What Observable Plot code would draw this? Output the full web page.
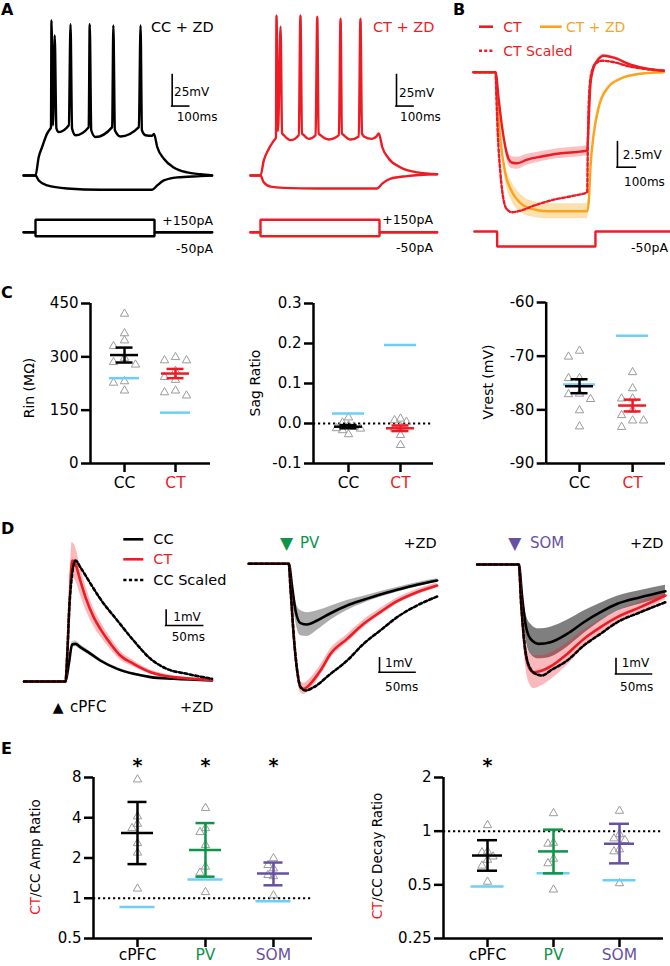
<!DOCTYPE html>
<html>
<head>
<meta charset="utf-8">
<script src="https://cdn.jsdelivr.net/npm/d3@7"></script>
<script src="https://cdn.jsdelivr.net/npm/@observablehq/plot@0.6"></script>
<style>
  html,body{margin:0;padding:0;background:#fff;}
  #fig{position:relative;width:670px;height:966px;overflow:hidden;background:#fff;font-family:"DejaVu Sans","Liberation Sans",Arial,sans-serif;color:#000;}
  .t{position:absolute;white-space:nowrap;line-height:1;}
</style>
</head>
<body>
<div id="fig"></div>
<script>
// ====================== DATA ======================
// Panel A: membrane potential [time ms, Vm mV]
const aCCDepol = [[-70,-70],[0,-70],[19,-55],[39,-47],[69,-36],[88,-32],[91,-31.5],[94,55],[103,-29.5],[113,43],[123,-32],[137,-35],[196,-29.5],[206,52],[215,-32],[235,-37.5],[313,-31],[319,52],[328,-33.5],[353,-39],[451,-31],[458,51],[467,-33.5],[500,-38.5],[608,-31],[618,51],[626,-33.5],[647,-37.5],[686,-38],[697,-36.5],[716,-47],[755,-56.5],[813,-63.5],[892,-67.5],[971,-69],[1039,-70]];
const aCCHyper = [[-70,-70],[0,-70],[19,-74],[69,-78],[186,-80.5],[382,-81.5],[686,-81.5],[716,-78],[755,-74],[834,-71.5],[971,-70.5],[1039,-70]];
const aCTDepol = [[-59,-70],[0,-70],[19,-58],[49,-48.5],[78,-42],[91,-39.5],[94,59],[103,-34],[118,50],[127,-36],[137,-37.5],[177,-41.5],[225,-37.5],[235,59],[244,-36],[255,-37.5],[284,-40.5],[324,-37.5],[334,58],[342,-36],[353,-37.5],[402,-41],[461,-37.5],[471,56.5],[479,-36],[490,-37.5],[529,-41],[578,-38.5],[588,56.5],[597,-36],[608,-38.5],[657,-40.5],[682,-38.5],[696,-36],[716,-47],[755,-56.5],[824,-63.5],[922,-67.5],[1039,-69]];
const aCTHyper = [[-59,-70],[0,-70],[19,-75.5],[59,-79],[137,-80],[334,-80.5],[686,-80.5],[716,-76.5],[765,-72.5],[863,-70.5],[1039,-69]];
// current command steps (pA)
const aStepTimeCC = [-70, 0, 0, 700, 700, 1039];
const aStepTimeCT = [-59, 0, 0, 700, 700, 1039];
const aStepPlus = [0, 0, 150, 150, 0, 0];
const aStepMinus = [0, 0, -50, -50, 0, 0];

// Panel B: [time ms, dVm mV, SEM mV]
const bCT = [[-120,0,0.05],[0,0,0.05],[18,-2.8,0.3],[36,-5.5,0.45],[54,-7.5,0.55],[72,-8.7,0.6],[91,-9.05,0.6],[118,-9.1,0.6],[173,-8.75,0.55],[245,-8.45,0.5],[336,-8.15,0.5],[427,-8.0,0.5],[500,-7.85,0.5],[509,-4.5,0.35],[518,-1.15,0.2],[536,0.5,0.15],[555,1.15,0.15],[591,1.65,0.15],[645,1.45,0.12],[736,0.75,0.1],[827,0.35,0.08],[918,0.15,0.05]];
const bCTZD = [[-120,0,0.05],[0,0,0.05],[9,-2.8,0.2],[27,-6.8,0.5],[54,-10.15,0.8],[91,-12.0,0.95],[136,-13.1,0.9],[191,-13.65,0.8],[282,-13.9,0.75],[500,-13.9,0.75],[509,-12.85,0.7],[518,-9.5,0.6],[536,-6.15,0.5],[563,-3.5,0.35],[609,-1.65,0.2],[682,-0.65,0.1],[791,-0.15,0.05],[918,0,0.05]];
const bCTScaled = [[-120,0],[0,0],[5.5,-2.85],[12.5,-6.15],[27,-10.15],[45,-12.85],[64,-13.75],[91,-14.0],[136,-13.85],[209,-13.35],[318,-12.75],[427,-12.35],[500,-12.0],[503,-7.85],[509,-2.85],[522,-0.15],[545,0.85],[582,1.15],[645,1.0],[736,0.55],[827,0.3],[918,0.15]];
const bStepTime = [-115, 9, 9, 545, 545, 955];
const bStepAmp = [0, 0, -50, -50, 0, 0];

// Panel C
const cCats = ["CC", "CT"];
const rinCC = [421, 366, 346, 330, 297, 285, 278, 231, 227, 205];
const rinCT = [299, 290, 290, 260, 243, 235, 205, 200, 191];
const rinMean = [305, 253], rinSem = [21, 13], rinZD = [240, 143];
const sagCC = [0.015, 0.002, -0.005, -0.008, -0.012, -0.013, -0.017, -0.027];
const sagCT = [0.012, 0.008, 0.004, -0.008, -0.013, -0.029, -0.054];
const sagMean = [-0.008, -0.012], sagSem = [0.004, 0.007], sagZD = [0.025, 0.196];
const vrestCC = [-69.0, -70.1, -74.1, -74.1, -77.0, -77.1, -78.0, -80.1, -83.1];
const vrestCT = [-73.0, -76.0, -77.9, -77.9, -80.0, -81.0, -82.0, -82.0, -83.2];
const vrestMean = [-75.6, -79.2], vrestSem = [1.3, 1.1], vrestZD = [-75.3, -66.2];

// Panel D: [time ms, mV, SEM mV]
const dCPFC_CC = [[-56,0,0.02],[0,0,0.02],[4.5,1.18,0.1],[9,2.47,0.18],[13.5,2.51,0.2],[20,2.29,0.18],[34,1.84,0.15],[47,1.4,0.12],[70,0.84,0.1],[92,0.51,0.08],[115,0.29,0.06],[146,0.18,0.05],[198,0.07,0.03]];
const dCPFC_CT = [[-56,0,0.02],[0,0,0.02],[2.2,1.62,0.2],[5.4,5.18,0.8],[9,8.07,1.2],[12.2,7.96,1.15],[20,6.73,0.95],[27,5.62,0.8],[38,4.29,0.6],[47,3.51,0.5],[61,2.51,0.4],[74,1.73,0.3],[92,1.18,0.22],[115,0.62,0.15],[146,0.29,0.1],[198,0.11,0.05]];
const dCPFC_CCScaled = [[-56,0],[0,0],[2.2,1.62],[5.4,5.18],[13.5,8.07],[20,7.62],[34,6.51],[47,5.51],[70,4.07],[92,2.73],[115,1.51],[137,0.84],[164,0.51],[198,0.18]];
const dPV_CC = [[-55.6,0,0.02],[0,0,0.02],[4.7,-1.67,0.3],[9.3,-3.34,0.7],[16.3,-4.24,0.9],[25.5,-4.34,0.85],[39.4,-4.05,0.7],[58,-3.53,0.5],[81,-2.98,0.35],[104,-2.57,0.25],[127,-2.19,0.2],[150.5,-1.86,0.17],[178,-1.5,0.15],[206,-1.19,0.12]];
const dPV_CT = [[-55.6,0,0.02],[0,0,0.02],[2.3,-1.67,0.1],[7,-5.24,0.25],[11.6,-7.62,0.35],[16.3,-8.81,0.4],[20.8,-8.93,0.4],[30,-8.57,0.4],[44,-7.62,0.38],[58,-6.43,0.35],[81,-5.36,0.3],[104,-4.29,0.27],[127,-3.45,0.25],[150.5,-2.67,0.22],[178,-2.03,0.2],[206,-1.55,0.18]];
const dPV_CCScaled = [[-55.6,0],[0,0],[2.3,-1.67],[7,-5.24],[11.6,-7.62],[16.3,-8.81],[23.2,-9.05],[34.7,-8.81],[58,-7.86],[81,-6.91],[104,-5.71],[127,-4.76],[150.5,-3.81],[178,-2.98],[206,-2.34]];
const dSOM_CC = [[-57.8,0,0.02],[0,0,0.02],[4.7,-2.18,0.4],[9.3,-3.96,0.8],[16.3,-4.96,1.0],[27.8,-5.29,1.0],[44,-5.18,1.0],[67.2,-4.62,0.9],[90.3,-3.85,0.75],[113.5,-3.18,0.6],[136.7,-2.62,0.5],[169,-2.18,0.45],[203.7,-1.78,0.4]];
const dSOM_CT = [[-57.8,0,0.02],[0,0,0.02],[3.3,-2.62,0.4],[7.9,-5.29,0.8],[13.9,-6.84,1.0],[20.8,-7.18,1.1],[32.5,-7.07,1.0],[44,-6.8,0.9],[67.2,-5.96,0.75],[90.3,-4.96,0.6],[113.5,-4.18,0.5],[136.7,-3.51,0.4],[169,-2.84,0.35],[203.7,-2.07,0.3]];
const dSOM_CCScaled = [[-57.8,0],[0,0],[3.3,-2.62],[7.9,-5.29],[13.9,-6.73],[23.2,-7.29],[32.5,-7.4],[44,-7.07],[67.2,-6.4],[90.3,-5.4],[113.5,-4.62],[136.7,-3.85],[169,-3.18],[203.7,-2.51]];

// Panel E
const eCats = ["cPFC", "PV", "SOM"];
const ampCPFC = [7.73, 4.09, 3.6, 3.34, 2.58, 2.19, 1.18];
const ampPV = [4.73, 3.34, 3.12, 2.5, 1.72, 1.55, 1.11];
const ampSOM = [1.99, 1.77, 1.67, 1.49, 1.46, 1.05];
const ampMean = [3.07, 2.3, 1.53], ampLo = [1.8, 1.45, 1.25], ampHi = [5.25, 3.65, 1.85], ampZD = [0.86, 1.38, 0.95];
const ampSig = ["cPFC", "PV", "SOM"];
const decayCPFC = [1.08, 0.77, 0.76, 0.72, 0.69, 0.64, 0.52];
const decayPV = [1.26, 0.86, 0.85, 0.70, 0.66, 0.47];
const decaySOM = [1.30, 0.96, 0.91, 0.89, 0.79, 0.77, 0.51];
const decayMean = [0.73, 0.77, 0.85], decayLo = [0.60, 0.58, 0.66], decayHi = [0.89, 1.02, 1.10], decayZD = [0.49, 0.58, 0.53];
const decaySig = ["cPFC"];

// ====================== STYLE ======================
const RED = "#ed1c24", ORANGE = "#f8a51d", GREEN = "#0d9448", PURPLE = "#6750a2", CYAN = "#6dcff6", TRI = "#9b9b9b";
const FONT = '"DejaVu Sans","Liberation Sans",Arial,sans-serif';
const fig = document.getElementById("fig");

function addPlot(opts) {
  const svg = Plot.plot({
    width: 670, height: 966, margin: 0,
    style: {position: "absolute", left: "0px", top: "0px", background: "transparent", overflow: "visible", fontFamily: FONT, fontSize: "15px", color: "#000"},
    ...opts
  });
  fig.appendChild(svg);
}
const tx = d => d[0], ty = d => d[1];
const lineOpt = (stroke, extra = {}) => ({x: tx, y: ty, stroke, strokeWidth: 2.4, curve: "monotone-x", ...extra});
const bandOpt = (fill, op) => ({x: tx, y1: d => d[1] - d[2], y2: d => d[1] + d[2], fill, fillOpacity: op, curve: "monotone-x"});
function scaleBar(bar) {
  return [
    Plot.ruleX([bar], {x: "t", y1: "v", y2: d => d.v + d.dv, strokeWidth: 1.6, strokeLinecap: "square"}),
    Plot.ruleY([bar], {y: "v", x1: "t", x2: d => d.t + d.dt, strokeWidth: 1.6, strokeLinecap: "square"})
  ];
}
function traceLayer(xs, ys, marks) {
  addPlot({x: {...xs, axis: null}, y: {...ys, axis: null}, marks});
}
const stepLine = (times, amps, stroke) => Plot.line(times.map((t, i) => [t, amps[i]]), {x: tx, y: ty, stroke, strokeWidth: 2.4, strokeLinejoin: "miter", curve: "linear"});

// ---------- Panel A ----------
const aXL = {domain: [0, 1000], range: [35, 205]};
const aXR = {domain: [0, 1000], range: [260, 430]};
const aY = {domain: [-70, 0], range: [175, 88.2]};
const aI = {domain: [-50, 150], range: [235.8, 219.3]};
traceLayer(aXL, aY, [
  Plot.line(aCCHyper, lineOpt("#000")),
  Plot.line(aCCDepol, lineOpt("#000")),
  ...scaleBar({t: 804, v: -14, dt: 100, dv: 25})
]);
traceLayer(aXL, aI, [stepLine(aStepTimeCC, aStepPlus, "#000"), stepLine(aStepTimeCC, aStepMinus, "#000")]);
traceLayer(aXR, aY, [
  Plot.line(aCTHyper, lineOpt(RED)),
  Plot.line(aCTDepol, lineOpt(RED)),
  ...scaleBar({t: 800, v: -14, dt: 100, dv: 25})
]);
traceLayer(aXR, aI, [stepLine(aStepTimeCT, aStepPlus, RED), stepLine(aStepTimeCT, aStepMinus, RED)]);

// ---------- Panel B ----------
const bX = {domain: [0, 500], range: [495, 586.7]};
traceLayer(bX, {domain: [-10, 0], range: [171.7, 71.7]}, [
  Plot.areaY(bCTZD, bandOpt(ORANGE, 0.35)),
  Plot.areaY(bCT, bandOpt(RED, 0.28)),
  Plot.line(bCTZD, lineOpt(ORANGE)),
  Plot.line(bCT, lineOpt(RED)),
  Plot.line(bCTScaled, lineOpt(RED, {strokeDasharray: "3,2.2"})),
  ...scaleBar({t: 665, v: -9.5, dt: 100, dv: 2.5})
]);
traceLayer(bX, {domain: [-50, 0], range: [246, 231]}, [stepLine(bStepTime, bStepAmp, RED)]);

// ---------- Panel D ----------
function dPanel(xs, ys, cc, ct, ccs, greyOp, bar) {
  traceLayer(xs, ys, [
    Plot.areaY(cc, bandOpt("#000", greyOp)),
    Plot.areaY(ct, bandOpt(RED, 0.3)),
    Plot.line(cc, lineOpt("#000", {strokeWidth: 2.6})),
    Plot.line(ct, lineOpt(RED, {strokeWidth: 2.6})),
    Plot.line(ccs, lineOpt("#000", {strokeWidth: 2.6, strokeDasharray: "3.2,2.4"})),
    ...scaleBar(bar)
  ]);
}
dPanel({domain: [0, 100], range: [65, 139]}, {domain: [0, 1], range: [681, 666]}, dCPFC_CC, dCPFC_CT, dCPFC_CCScaled, 0.2, {t: 136, v: 3.73, dt: 50, dv: 1});
dPanel({domain: [0, 100], range: [288.3, 360.3]}, {domain: [-1, 0], range: [577.3, 563.3]}, dPV_CC, dPV_CT, dPV_CCScaled, 0.32, {t: 126, v: -7.75, dt: 50, dv: 1});
dPanel({domain: [0, 100], range: [518.3, 590.3]}, {domain: [-1, 0], range: [579, 564]}, dSOM_CC, dSOM_CT, dSOM_CCScaled, 0.5, {t: 135, v: -7.3, dt: 50, dv: 1});

// ---------- Scatter panels (C, E) ----------
function dodge(py, slot, h = 7) {
  const placed = [];
  return py.map(y => {
    for (let k = 0; k < 40; k++) {
      const s = k === 0 ? 0 : (k % 2 ? -Math.ceil(k / 2) : Math.ceil(k / 2));
      const x = s * slot;
      if (!placed.some(p => Math.abs(p.y - y) < h && Math.abs(p.x - x) < slot * 0.99)) { placed.push({x, y}); return x; }
    }
    return 0;
  });
}
function scatterPanel(g) {
  const stepPx = (g.right - g.left) / (g.x1 - g.x0);
  const yPx = (g.log ? d3.scaleLog().base(2) : d3.scaleLinear()).domain(g.yDomain).range([g.bottom, g.top]);
  const pts = [];
  g.groups.forEach((vals, i) => {
    const offs = dodge(vals.map(yPx), g.slot);
    vals.forEach((v, j) => pts.push({x: i + offs[j] / stepPx, y: v}));
  });
  const eb = g.means.map((m, i) => ({i, m, lo: g.lo[i], hi: g.hi[i], c: g.colors[i]}));
  const zd = g.zd.map((v, i) => ({i, v}));
  const mw = g.meanHalf / stepPx, cw = g.capHalf / stepPx, zw = g.zdHalf / stepPx;
  const SW = 2.5;
  addPlot({
    marginLeft: g.left, marginRight: 670 - g.right, marginTop: g.top, marginBottom: 966 - g.bottom,
    x: {domain: [g.x0, g.x1]},
    y: g.log ? {type: "log", base: 2, domain: g.yDomain} : {domain: g.yDomain},
    color: {type: "identity"},
    marks: [
      g.ref != null ? Plot.ruleY([g.ref], {strokeDasharray: "2.2,2.8", strokeWidth: 2}) : null,
      Plot.dot(pts, {x: "x", y: "y", symbol: "triangle", r: 3.1, stroke: TRI, strokeWidth: 1, fill: "none"}),
      Plot.ruleY(zd, {y: "v", x1: d => d.i - zw, x2: d => d.i + zw, stroke: CYAN, strokeWidth: SW}),
      Plot.ruleX(eb, {x: "i", y1: "lo", y2: "hi", stroke: "c", strokeWidth: SW}),
      Plot.ruleY(eb, {y: "hi", x1: d => d.i - cw, x2: d => d.i + cw, stroke: "c", strokeWidth: SW}),
      Plot.ruleY(eb, {y: "lo", x1: d => d.i - cw, x2: d => d.i + cw, stroke: "c", strokeWidth: SW}),
      Plot.ruleY(eb, {y: "m", x1: d => d.i - mw, x2: d => d.i + mw, stroke: "c", strokeWidth: SW}),
      Plot.axisY({ticks: g.ticks, tickFormat: g.fmt, tickSize: 9, tickPadding: 3, strokeWidth: SW, fontSize: 15, label: null}),
      Plot.axisX({ticks: g.cats.map((_, i) => i), tickFormat: () => "", tickSize: 9, strokeWidth: SW, label: null}),
      Plot.ruleX([g.x0], {strokeWidth: SW}),
      Plot.ruleY([g.yDomain[0]], {strokeWidth: SW}),
      Plot.text(g.cats, {x: (d, i) => i, text: d => d, frameAnchor: "bottom", dy: g.catDy, fill: (d, i) => g.colors[i], fontSize: 15.5}),
      g.sig ? Plot.text(g.sig, {x: d => g.cats.indexOf(d), text: () => "*", frameAnchor: "top", dy: -19.5, fontSize: 19, fontWeight: "bold"}) : null
    ]
  });
}
const cColors = ["#000", RED];
const eColors = ["#000", GREEN, PURPLE];
const symFmt = d => String(d);
scatterPanel({left: 90, right: 210, top: 303, bottom: 463, x0: -0.667, x1: 1.686, yDomain: [0, 450], ticks: [0, 150, 300, 450], fmt: symFmt,
  cats: cCats, colors: cColors, groups: [rinCC, rinCT], means: rinMean, lo: rinMean.map((m, i) => m - rinSem[i]), hi: rinMean.map((m, i) => m + rinSem[i]), zd: rinZD,
  slot: 11, meanHalf: 14, capHalf: 8.5, zdHalf: 15, catDy: 24});
scatterPanel({left: 313, right: 433, top: 303, bottom: 463, x0: -0.673, x1: 1.635, yDomain: [-0.1, 0.3], ticks: [-0.1, 0, 0.1, 0.2, 0.3], fmt: d => d.toFixed(1),
  cats: cCats, colors: cColors, groups: [sagCC, sagCT], means: sagMean, lo: sagMean.map((m, i) => m - sagSem[i]), hi: sagMean.map((m, i) => m + sagSem[i]), zd: sagZD,
  slot: 6, meanHalf: 14, capHalf: 8.5, zdHalf: 16, catDy: 24, ref: 0});
scatterPanel({left: 545.7, right: 665, top: 302, bottom: 463, x0: -0.628, x1: 1.62, yDomain: [-90, -60], ticks: [-90, -80, -70, -60], fmt: symFmt,
  cats: cCats, colors: cColors, groups: [vrestCC, vrestCT], means: vrestMean, lo: vrestMean.map((m, i) => m - vrestSem[i]), hi: vrestMean.map((m, i) => m + vrestSem[i]), zd: vrestZD,
  slot: 11, meanHalf: 14, capHalf: 8.5, zdHalf: 16, catDy: 24});
scatterPanel({left: 93, right: 312, top: 777, bottom: 938, x0: -0.647, x1: 2.574, log: true, yDomain: [0.5, 8], ticks: [0.5, 1, 2, 4, 8], fmt: symFmt,
  cats: eCats, colors: eColors, groups: [ampCPFC, ampPV, ampSOM], means: ampMean, lo: ampLo, hi: ampHi, zd: ampZD,
  slot: 5.5, meanHalf: 16, capHalf: 9.5, zdHalf: 17.5, catDy: 21, ref: 1, sig: ampSig});
scatterPanel({left: 443, right: 663, top: 777, bottom: 938, x0: -0.667, x1: 2.667, log: true, yDomain: [0.25, 2], ticks: [0.25, 0.5, 1, 2], fmt: symFmt,
  cats: eCats, colors: eColors, groups: [decayCPFC, decayPV, decaySOM], means: decayMean, lo: decayLo, hi: decayHi, zd: decayZD,
  slot: 5.5, meanHalf: 15, capHalf: 10, zdHalf: 16.5, catDy: 21, ref: 1, sig: decaySig});

// ---------- Text ----------
function t(str, x, cy, {size = 14, color = "#000", weight = "normal", anchor = "start"} = {}) {
  const d = document.createElement("div");
  d.className = "t";
  d.textContent = str;
  const tx = anchor === "end" ? "-100%" : anchor === "middle" ? "-50%" : "0";
  d.style.cssText = `left:${x}px;top:${cy}px;font-size:${size}px;color:${color};font-weight:${weight};transform:translate(${tx},-50%);`;
  fig.appendChild(d);
}
function vtitle(parts, cx, cy, size) {
  const d = document.createElement("div");
  d.className = "t";
  d.style.cssText = `left:${cx}px;top:${cy}px;font-size:${size}px;transform:translate(-50%,-50%) rotate(-90deg);`;
  parts.forEach(([s, c]) => { const sp = document.createElement("span"); sp.textContent = s; sp.style.color = c; d.appendChild(sp); });
  fig.appendChild(d);
}
// panel letters
[["A", 1, 9.5], ["B", 453, 9.5], ["C", 1, 292.5], ["D", 1, 529], ["E", 1, 749]].forEach(([s, x, y]) => t(s, x, y, {size: 16, weight: "bold"}));
// A
t("CC + ZD", 151, 27, {size: 14.5});
t("CT + ZD", 373, 27, {size: 14.5, color: RED});
t("25mV", 174, 91.7, {size: 12});
t("100ms", 176.7, 116.7, {size: 12});
t("25mV", 399, 92.5, {size: 12});
t("100ms", 400, 117, {size: 12});
t("+150pA", 213, 220.5, {size: 12.5, anchor: "end"});
t("-50pA", 213, 248.5, {size: 12.5, anchor: "end"});
t("+150pA", 433, 220, {size: 12.5, anchor: "end"});
t("-50pA", 433, 248, {size: 12.5, anchor: "end"});
// B
t("CT", 503.3, 26.7, {size: 14, color: RED});
t("CT + ZD", 566, 26.7, {size: 14, color: ORANGE});
t("CT Scaled", 503.3, 50.7, {size: 14, color: RED});
t("2.5mV", 622.7, 155, {size: 12});
t("100ms", 624, 181.7, {size: 12});
t("-50pA", 668, 248, {size: 12.5, anchor: "end"});
// C titles
vtitle([["Rin (MΩ)", "#000"]], 29.3, 387.5, 14);
vtitle([["Sag Ratio", "#000"]], 255, 383.3, 14);
vtitle([["Vrest (mV)", "#000"]], 488.3, 382.3, 14);
// D
t("CC", 153.3, 539.3, {size: 14.5});
t("CT", 153.3, 559.3, {size: 14.5, color: RED});
t("CC Scaled", 153.3, 580, {size: 14.5});
t("1mV", 173.3, 616.7, {size: 12});
t("50ms", 171.7, 636.7, {size: 12});
t("▲", 52.7, 707, {size: 14});
t("cPFC", 70, 707, {size: 15});
t("+ZD", 213.3, 707, {size: 14.5, anchor: "end"});
t("▼", 280, 543, {size: 17, color: GREEN});
t("PV", 300, 543, {size: 15, color: GREEN});
t("+ZD", 436.7, 543, {size: 14.5, anchor: "end"});
t("▼", 508.3, 543, {size: 17, color: PURPLE});
t("SOM", 530, 543, {size: 15, color: PURPLE});
t("+ZD", 663.3, 543, {size: 14.5, anchor: "end"});
t("1mV", 385, 663.3, {size: 12});
t("50ms", 385, 686.7, {size: 12});
t("1mV", 621.7, 663.3, {size: 12});
t("50ms", 620, 686.7, {size: 12});
// E titles
vtitle([["CT", RED], ["/CC Amp Ratio", "#000"]], 36, 856.7, 13.5);
vtitle([["CT", RED], ["/CC Decay Ratio", "#000"]], 378.3, 856, 13.5);

// legend swatches
const ns = "http://www.w3.org/2000/svg";
const sw = document.createElementNS(ns, "svg");
sw.setAttribute("width", "670"); sw.setAttribute("height", "966");
sw.style.cssText = "position:absolute;left:0;top:0;overflow:visible";
function swatch(x1, x2, y, color, dash) {
  const l = document.createElementNS(ns, "line");
  l.setAttribute("x1", x1); l.setAttribute("x2", x2); l.setAttribute("y1", y); l.setAttribute("y2", y);
  l.setAttribute("stroke", color); l.setAttribute("stroke-width", "2.6");
  if (dash) l.setAttribute("stroke-dasharray", dash);
  sw.appendChild(l);
}
swatch(479, 493, 26.7, RED);
swatch(540, 561.7, 26.7, ORANGE);
swatch(479, 493, 50.7, RED, "3,2.2");
swatch(123.3, 143.3, 539.3, "#000");
swatch(123.3, 143.3, 559.3, RED);
swatch(123.3, 143.3, 580, "#000", "3.2,2.4");
fig.appendChild(sw);
</script>
</body>
</html>
